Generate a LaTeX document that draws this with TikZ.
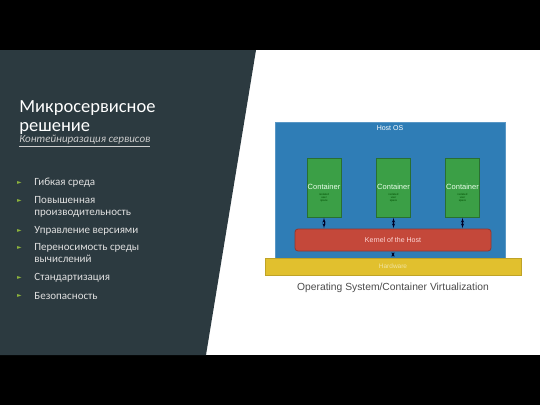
\documentclass[tikz,border=0pt]{standalone}
\usepackage{fontspec}
\setmainfont{Carlito}
\newfontfamily\diagfont{Liberation Sans}
\newfontfamily\symfont{DejaVu Sans}
\usetikzlibrary{arrows}
\definecolor{slate}{HTML}{2C3A40}
\definecolor{bulletgreen}{HTML}{8DB43C}
\definecolor{hostblue}{HTML}{2F7DB6}
\definecolor{boxgreen}{HTML}{3B9F46}
\definecolor{kernelred}{HTML}{C4483A}
\definecolor{hwyellow}{HTML}{E1C02E}
\newcommand{\bfsize}[1]{\fontsize{#1}{#1}\selectfont}

\tikzset{
  item/.style={anchor=west, align=left, text=white!88!black, font=\fontsize{11}{12}\selectfont, inner sep=0pt},
  marker/.style={text=bulletgreen, font=\symfont\fontsize{6}{6}\selectfont, inner sep=0pt},
  cbox/.style={draw=boxgreen!70!black, fill=boxgreen, minimum width=34pt, minimum height=59pt, inner sep=0pt},
  ctitle/.style={text=white!92!green, font=\diagfont\bfsize{7.5}, inner sep=0pt},
  csub/.style={text=black!70!green, font=\diagfont\bfsize{2.8}, align=center, inner sep=0pt},
  link/.style={<->, line width=0.6pt, draw=black!85!blue, >=latex', shorten <=0.5pt, shorten >=0.5pt}
}

\begin{document}
\begin{tikzpicture}[x=1pt, y=-1pt, >=latex', thick]
      % page frame
      \fill [white] (0,0) rectangle (540,405);
      \fill [black] (0,0) rectangle (540,50);
      \fill [black] (0,355) rectangle (540,405);
      \fill [slate] (0,50) -- (256,50) -- (206,355) -- (0,355) -- cycle;

      % heading
      \node [anchor=west, align=left, text=white, inner sep=0pt,
        font=\fontsize{18.5}{19}\selectfont, name=title] at (19,117.5)
        {Микросервисное\\решение};
      \node [anchor=west, text=white!80!black, inner sep=0pt,
        font=\itshape\fontsize{11}{11}\selectfont, name=subtitle] at (19,141)
        {\underline{Контейниразация сервисов}};

      % bullet list
      \foreach \y/\m/\t [count=\i] in {183/183/{Гибкая среда},
          207/201/{Повышенная\\производительность},
          231/231/{Управление версиями},
          253.5/248/{Переносимость среды\\вычислений},
          278/278/{Стандартизация},
          296/296/{Безопасность}} {
        \node [marker, name=mark\i] at (19.5,\m) {►};
        \node [item, name=item\i] at (34,\y) {\t};
      }

      % container diagram
      \node [fill=hostblue, draw=hostblue!80!white, minimum width=230pt,
        minimum height=136pt, name=host] at (390,190) {};
      \node [text=white, font=\diagfont\bfsize{7}, inner sep=0pt, name=hostlabel]
        at (390,128) {Host OS};

      \node [fill=hwyellow, draw=hwyellow!85!black, minimum width=256pt,
        minimum height=17pt, inner sep=0pt, name=hw] at (393,266.5) {};
      \node [text=hwyellow!45!white, font=\diagfont\bfsize{6.5}, inner sep=0pt,
        name=hwlabel] at (hw.center) {Hardware};

      \node [fill=kernelred, draw=kernelred!75!black, rounded corners=3pt,
        minimum width=196pt, minimum height=22pt, inner sep=0pt, name=kernel]
        at (393,240) {};
      \node [text=white!85!red, font=\diagfont\bfsize{7}, inner sep=0pt,
        name=kernellabel] at (kernel.center) {Kernel of the Host};

      \foreach \x [count=\i] in {324,393.5,462.5} {
        \node [cbox, name=c\i] at (\x,187.5) {};
        \node [ctitle, name=c\i title] at (\x,187) {Container};
        \node [csub, name=c\i sub] at (\x,198) {isolated\\user\\space};
        \draw [link] (c\i.south) -- (c\i.south |- kernel.north);
      }
      \draw [link] (kernel.south) -- (hw.north);

      \node [text=black!70, font=\diagfont\bfsize{10.3}, inner sep=0pt,
        name=caption] at (393,288) {Operating System/Container Virtualization};
\end{tikzpicture}
\end{document}
